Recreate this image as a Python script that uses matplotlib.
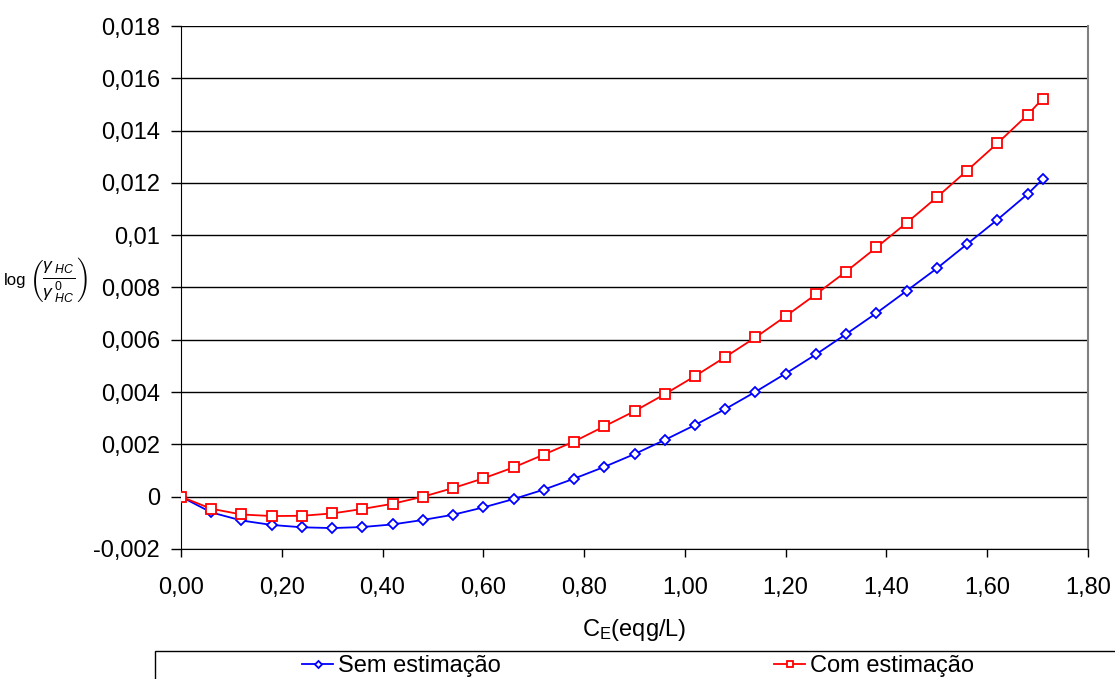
import matplotlib
matplotlib.use("Agg")
import matplotlib.pyplot as plt
from matplotlib.patches import Rectangle

plt.rcParams['font.family'] = ['Liberation Sans', 'DejaVu Sans']
plt.rcParams['mathtext.fontset'] = 'custom'
plt.rcParams['mathtext.rm'] = 'Liberation Sans'
plt.rcParams['mathtext.it'] = 'Liberation Sans:italic'

# concentration C_E (eqg/L)
ce = [0.00, 0.06, 0.12, 0.18, 0.24, 0.30, 0.36, 0.42, 0.48, 0.54,
      0.60, 0.66, 0.72, 0.78, 0.84, 0.90, 0.96, 1.02, 1.08, 1.14,
      1.20, 1.26, 1.32, 1.38, 1.44, 1.50, 1.56, 1.62, 1.68, 1.71]

sem_estimacao = [0.0, -0.00060, -0.00091, -0.00108, -0.00117, -0.00120, -0.00116, -0.00106,
                 -0.00089, -0.00069, -0.00041, -0.00009, 0.00027, 0.00069, 0.00114,
                 0.00163, 0.00217, 0.00274, 0.00335, 0.00401, 0.00471, 0.00544,
                 0.00622, 0.00702, 0.00787, 0.00873, 0.00966, 0.01059, 0.01157, 0.01214]

com_estimacao = [0.0, -0.00046, -0.00068, -0.00074, -0.00073, -0.00064, -0.00047, -0.00027,
                 0.00000, 0.00033, 0.00070, 0.00112, 0.00161, 0.00211, 0.00269,
                 0.00327, 0.00392, 0.00461, 0.00534, 0.00609, 0.00690, 0.00774,
                 0.00861, 0.00953, 0.01047, 0.01145, 0.01247, 0.01351, 0.01460, 0.01522]

yticks = [-0.002, 0, 0.002, 0.004, 0.006, 0.008, 0.01, 0.012, 0.014, 0.016, 0.018]
ytick_labels = ['-0,002', '0', '0,002', '0,004', '0,006', '0,008', '0,01',
                '0,012', '0,014', '0,016', '0,018']
xticks = [0.0, 0.2, 0.4, 0.6, 0.8, 1.0, 1.2, 1.4, 1.6, 1.8]
xtick_labels = ['0,00', '0,20', '0,40', '0,60', '0,80', '1,00', '1,20', '1,40', '1,60', '1,80']

fig = plt.figure(figsize=(11.15, 6.79), dpi=100)
ax = fig.add_axes([181/1115, 1 - 549/679, (1088-181)/1115, (549-26)/679])

for y in yticks:
    ax.axhline(y, color='black', lw=1.0, zorder=1)

ax.plot(ce, sem_estimacao, color='#0000FF', lw=1.3, marker='D', ms=5.5,
        mfc='white', mec='#0000FF', mew=1.3, label='Sem estimação', zorder=3)
ax.plot(ce, com_estimacao, color='#FF0000', lw=1.3, marker='s', ms=7.5,
        mfc='white', mec='#FF0000', mew=1.3, label='Com estimação', zorder=3)

ax.set_xlim(0, 1.8)
ax.set_ylim(-0.002, 0.018)
ax.set_xticks(xticks)
ax.set_xticklabels(xtick_labels)
ax.set_yticks(yticks)
ax.set_yticklabels(ytick_labels)
ax.tick_params(axis='both', labelsize=17, direction='out', width=1, color='black')
ax.tick_params(axis='y', length=7, pad=8)
ax.tick_params(axis='x', length=6, pad=14)

ax.spines['left'].set_color('black')
ax.spines['bottom'].set_color('black')
ax.spines['right'].set_color('#808080')
ax.spines['right'].set_linewidth(1.5)
ax.spines['top'].set_visible(False)

fig.text(634.5/1115, 1 - 630/679, r'C$_\mathregular{E}$(eqg/L)', fontsize=17,
         ha='center', va='center')

# y label: log(gamma_HC / gamma0_HC)
fig.text(4/1115, 1 - 281/679, 'log', fontsize=12, va='center', ha='left')
fig.text(29/1115, 1 - 280/679, r'$\left(\frac{\gamma_{\ HC}}{\gamma^{\,0}_{\ HC}}\right)$',
         fontsize=18, va='center', ha='left')

# legend box
fig.patches.append(Rectangle((155/1115, -0.05), 1.0, 0.05 + (679-651)/679,
                             transform=fig.transFigure, fill=False,
                             edgecolor='black', lw=1.0))
leg = fig.legend(loc='center', bbox_to_anchor=(638/1115, 1 - 666/679), ncol=2,
                 frameon=False, fontsize=17, handlelength=1.3, handletextpad=0.2,
                 columnspacing=11.6, markerscale=0.65, borderpad=0)

fig.savefig('out.png', dpi=100)
